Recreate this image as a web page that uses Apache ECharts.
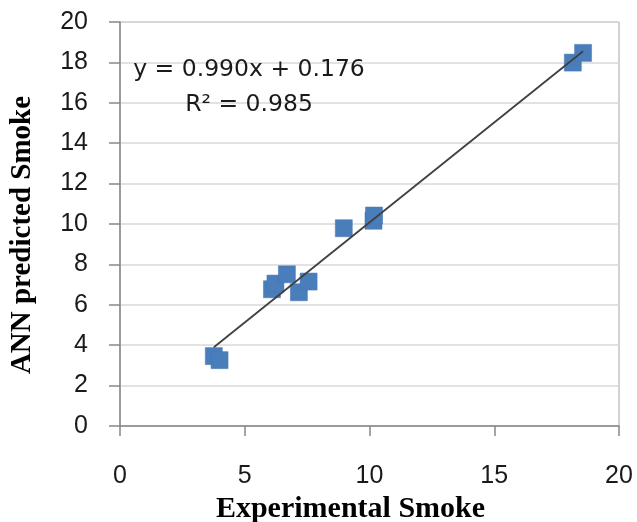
<!DOCTYPE html>
<html>
<head>
<meta charset="utf-8">
<script src="https://cdn.jsdelivr.net/npm/echarts@6/dist/echarts.min.js"></script>
<style>
  html, body { margin: 0; padding: 0; background: #ffffff; }
  #chart { width: 637px; height: 522px; }
</style>
</head>
<body>
<div id="chart"></div>
<script>
// Experimental smoke (x) vs ANN predicted smoke (y)
var experimentalSmoke = [3.76, 3.99, 6.09, 6.23, 6.69, 7.17, 7.56, 8.97, 10.16, 10.18, 18.15, 18.56];
var predictedSmoke    = [3.46, 3.26, 6.77, 7.05, 7.51, 6.62, 7.15, 9.79, 10.16, 10.42, 17.99, 18.47];
// Linear trend line endpoints (y = 0.990x + 0.176, across the data range)
var trendX = [3.76, 18.56];
var trendY = [3.90, 18.55];
var xTicks = [0, 5, 10, 15, 20];
var yTicks = [0, 2, 4, 6, 8, 10, 12, 14, 16, 18, 20];
var equationText = 'y = 0.990x + 0.176';
var r2Text = 'R\u00B2 = 0.985';

var points = experimentalSmoke.map(function (x, i) { return [x, predictedSmoke[i]]; });
var trend = trendX.map(function (x, i) { return [x, trendY[i]]; });

var chart = echarts.init(document.getElementById('chart'), null, { renderer: 'canvas' });
var tickFont = { fontFamily: 'Liberation Sans', fontSize: 25, color: '#1a1a1a' };

chart.setOption({
  animation: false,
  backgroundColor: '#ffffff',
  title: {
    text: equationText + '\n' + r2Text,
    left: 244,
    top: 47,
    textAlign: 'center',
    textStyle: { fontFamily: 'DejaVu Sans', fontSize: 23.5, fontWeight: 'normal', color: '#1a1a1a', lineHeight: 35 }
  },
  grid: {
    left: 120, right: 18, top: 22, bottom: 96,
    containLabel: false,
    outerBoundsMode: 'none',
    show: true, borderColor: '#a6a6a6', borderWidth: 1, backgroundColor: 'transparent'
  },
  xAxis: {
    type: 'value',
    min: xTicks[0], max: xTicks[xTicks.length - 1], interval: 5,
    name: 'Experimental Smoke',
    nameLocation: 'middle',
    nameGap: 68,
    nameTextStyle: { fontFamily: 'Liberation Serif', fontWeight: 'bold', fontSize: 30, color: '#000000', padding: [0, 38, 0, 0] },
    axisLine: { show: true, lineStyle: { color: '#888888', width: 1.5 } },
    axisTick: { show: true, inside: false, length: 10, lineStyle: { color: '#888888', width: 1.5 } },
    axisLabel: Object.assign({ margin: 38 }, tickFont),
    splitLine: { show: false }
  },
  yAxis: {
    type: 'value',
    min: yTicks[0], max: yTicks[yTicks.length - 1], interval: 2,
    name: 'ANN predicted Smoke',
    nameLocation: 'middle',
    nameGap: 83,
    nameRotate: 90,
    nameTextStyle: { fontFamily: 'Liberation Serif', fontWeight: 'bold', fontSize: 29, color: '#000000', padding: [0, 22, 0, 0] },
    axisLine: { show: true, lineStyle: { color: '#888888', width: 1.5 } },
    axisTick: { show: true, inside: false, length: 11, lineStyle: { color: '#888888', width: 1.5 } },
    axisLabel: Object.assign({ margin: 32 }, tickFont),
    splitLine: { show: true, lineStyle: { color: '#d9d9d9', width: 1.5 } }
  },
  series: [
    {
      type: 'scatter',
      data: points,
      symbol: 'rect',
      symbolSize: 17,
      itemStyle: { color: '#4a7ebb', borderColor: '#4275b2', borderWidth: 0.5, opacity: 1 },
      z: 3
    },
    {
      type: 'line',
      data: trend,
      symbol: 'none',
      lineStyle: { color: '#404040', width: 1.8 },
      z: 4,
      silent: true
    }
  ]
});
</script>
</body>
</html>
